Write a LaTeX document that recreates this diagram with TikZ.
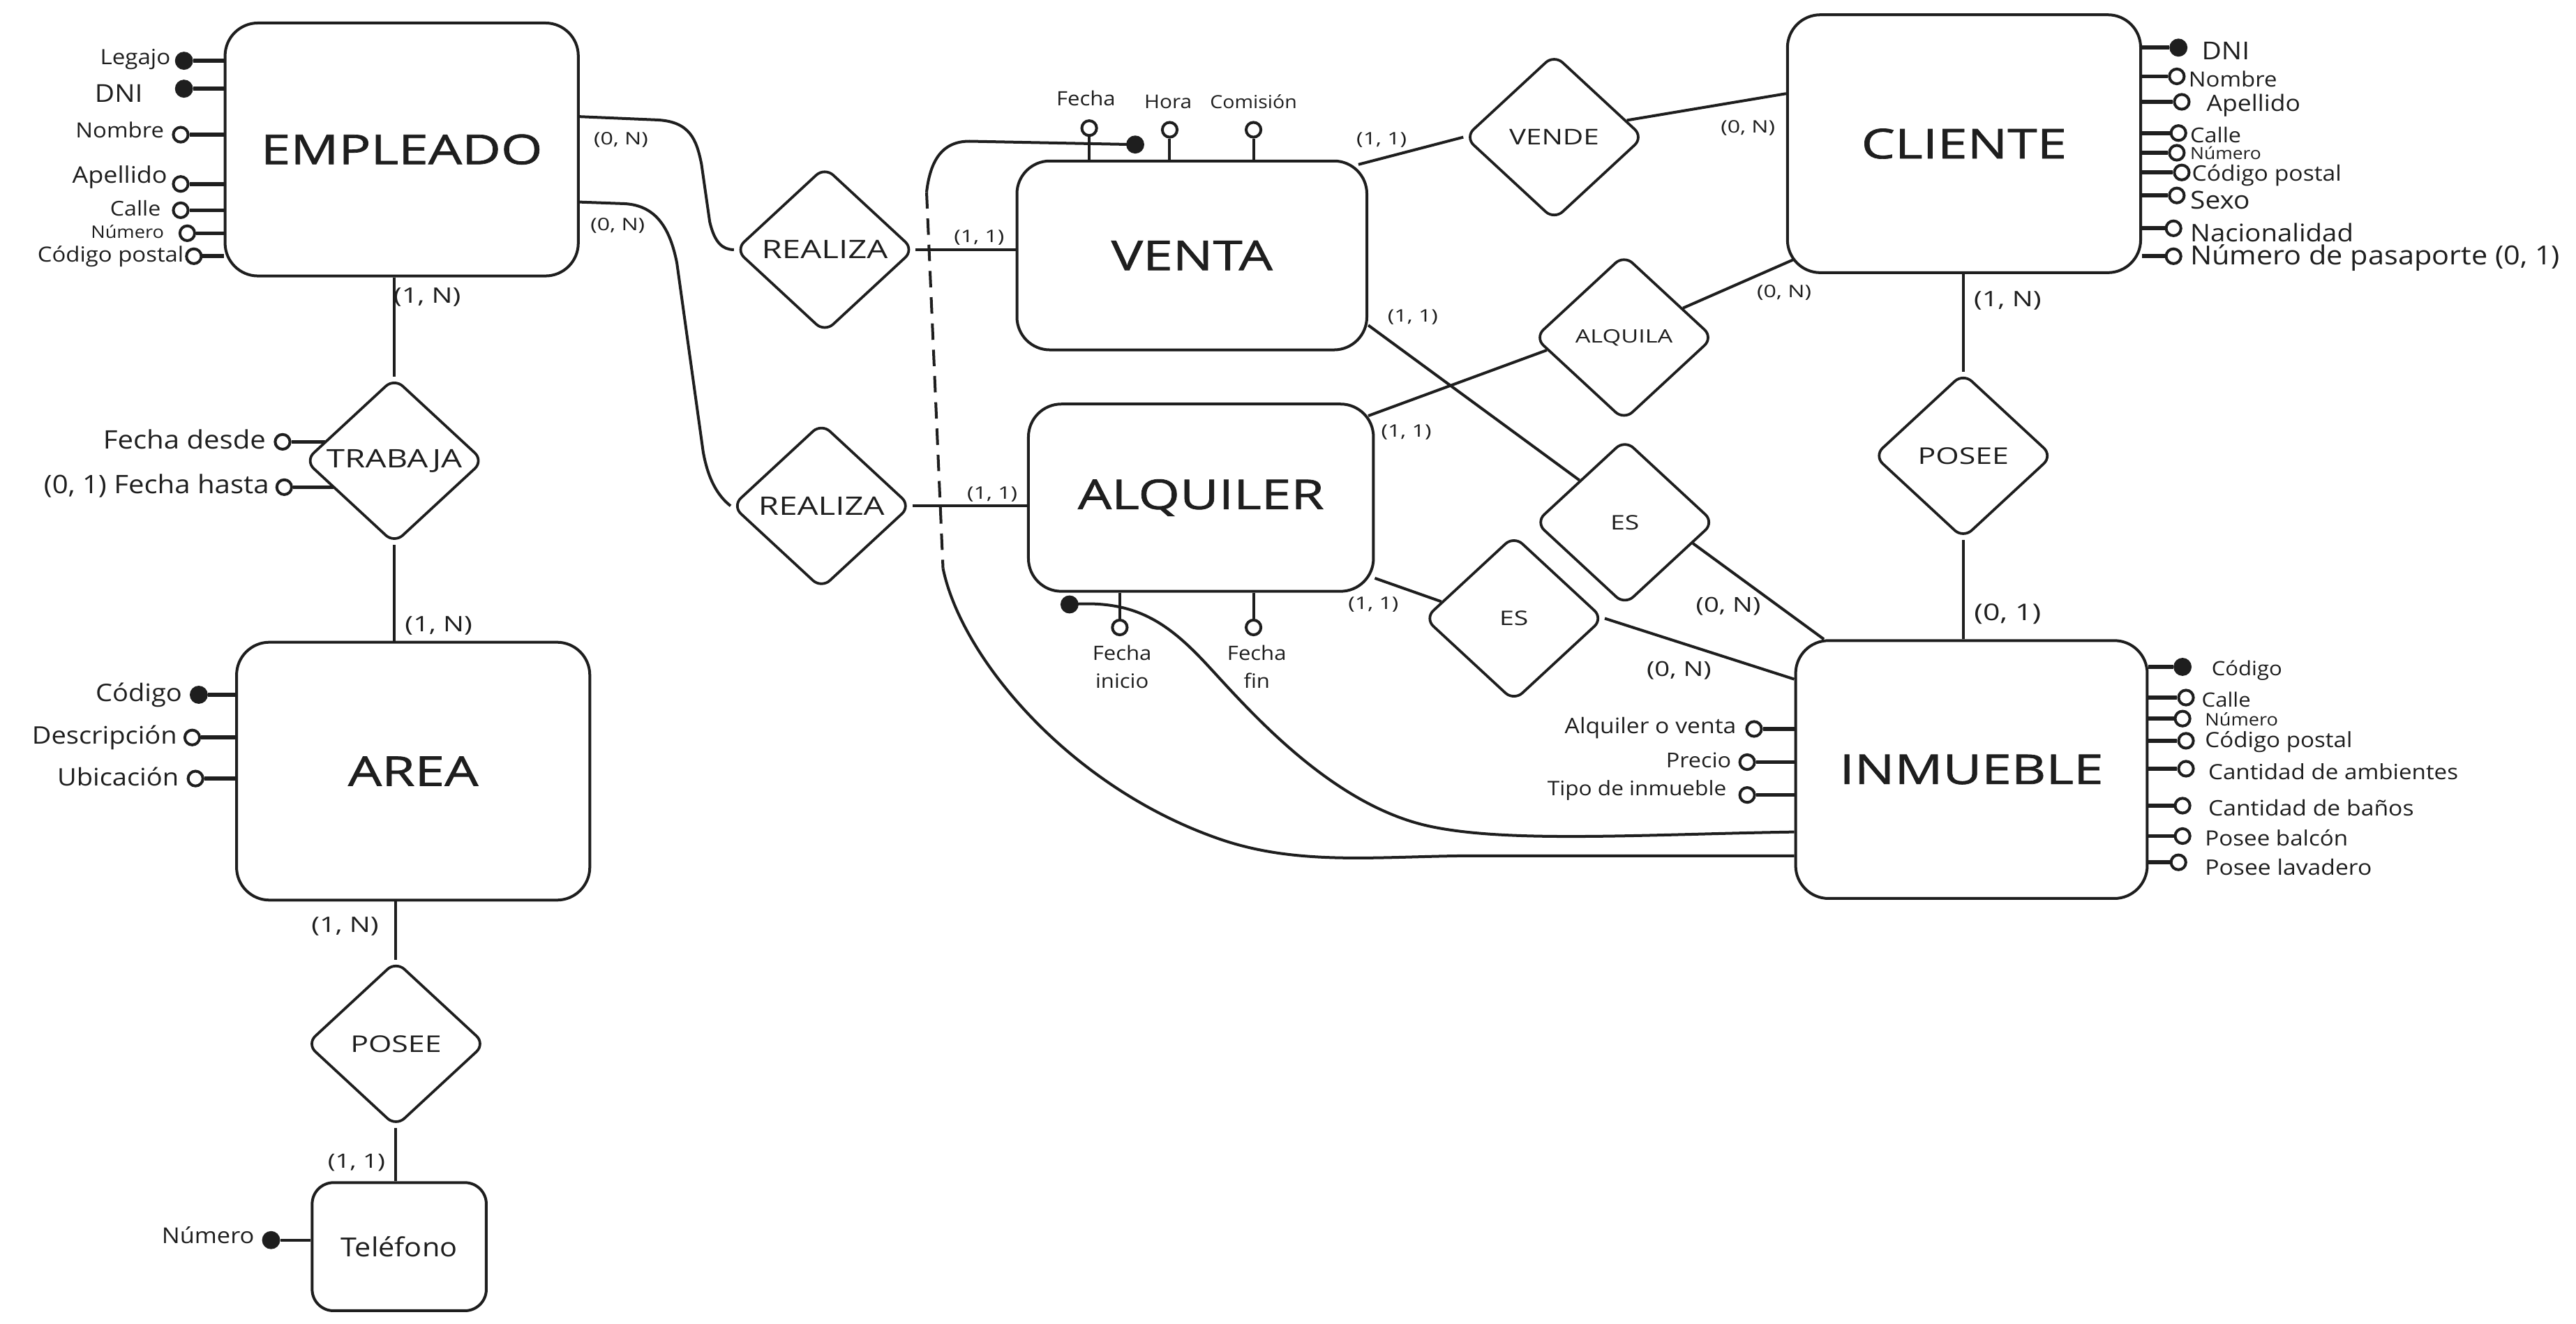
\documentclass[tikz,border=0pt]{standalone}
\usepackage{fontspec}
\setmainfont{Open Sans}
\newfontfamily\fHand[FakeStretch=1.1]{Open Sans}
\newfontfamily\fCaps[FakeStretch=1.3]{Open Sans}
\newfontfamily\fBig[FakeStretch=1.3,FakeBold=1.2]{Open Sans}
\usetikzlibrary{shapes.geometric,calc}
\newcommand\hsz[1]{\fontsize{#1}{#1}\selectfont}
\definecolor{ink}{HTML}{1E1E1E}
\begin{document}
\begin{tikzpicture}[x=1pt,y=-1pt,color=ink,
  entity/.style={draw, line width=1.7pt, rounded corners=20pt, inner sep=0pt, font={\fBig\hsz{25}}},
  rel/.style={draw, diamond, line width=1.6pt, rounded corners=7pt, minimum width=109pt, minimum height=101pt, inner sep=0pt},
  conn/.style={line width=1.7pt},
  stub/.style={line width=2.4pt},
  attr/.style={circle, draw, line width=1.7pt, fill=white, inner sep=0pt, minimum size=9pt},
  keyattr/.style={circle, fill=ink, inner sep=0pt, minimum size=11pt},
  lbl/.style={inner sep=0pt, font={\fHand\hsz{13}}},
  card/.style={inner sep=0pt, font={\fCaps\hsz{10.5}}},
  cardL/.style={inner sep=0pt, font={\fCaps\hsz{13}}},
]
\useasboundingbox (0,0) rectangle (1568,806);
\fill[white] (0,0) rectangle (1568,806);

% ---------------- entities
\node[entity, minimum width=215pt, minimum height=154pt] (emp) at (244.5,91) {EMPLEADO};
\node[entity, minimum width=215pt, minimum height=157pt] (area) at (251.5,469.5) {AREA};
\node[entity, minimum width=106pt, minimum height=78pt, rounded corners=13pt, font={\fHand\hsz{16}}] (tel) at (243,759) {Teléfono};
\node[entity, minimum width=213pt, minimum height=115pt] (venta) at (725.5,155.5) {VENTA};
\node[entity, minimum width=210pt, minimum height=114pt] (alq) at (731,303) {ALQUILER};
\node[entity, minimum width=215pt, minimum height=157pt] (cli) at (1195.5,87.5) {CLIENTE};
\node[entity, minimum width=214pt, minimum height=157pt] (inm) at (1200,468.5) {INMUEBLE};

% ---------------- relationships
\node[rel, font={\fCaps\hsz{15.5}}] (r1) at (502,152) {REALIZA};
\node[rel, font={\fCaps\hsz{15.5}}] (r2) at (500,308) {REALIZA};
\node[rel, font={\fCaps\hsz{15.5}}] (trab) at (240,280.5) {TRABAJA};
\node[rel, font={\fCaps\hsz{14}}] (posL) at (241,635.5) {POSEE};
\node[rel, font={\fCaps\hsz{13.2}}] (vende) at (946,83.5) {VENDE};
\node[rel, font={\fCaps\hsz{11.2}}] (alqa) at (988.5,205.5) {ALQUILA};
\node[rel, font={\fCaps\hsz{12.2}}] (es1) at (989,318) {ES};
\node[rel, font={\fCaps\hsz{12.2}}] (es2) at (921.5,376.5) {ES};
\node[rel, font={\fCaps\hsz{14}}] (posR) at (1195,277.5) {POSEE};

% ---------------- connectors
\draw[conn] ([yshift=20pt]emp.east) -- (400,73) .. controls (420,74) and (424,85) .. (427,100) -- (432,135) .. controls (435,148) and (440,152) .. (r1.west);
\draw[conn] ([yshift=-32pt]emp.east) -- (380,124) .. controls (400,125) and (408,140) .. (412,160) -- (428,275) .. controls (431,292) and (437,302) .. (r2.west);
\draw[conn] (r1.east) -- (r1.east -| venta.west);
\draw[conn] (r2.east) -- (r2.east -| alq.west);

\node[keyattr] (vk) at (691,88) {};
\draw[conn] (vk.center) -- (590,86) .. controls (572,86) and (566,100) .. (564,117) coordinate (d1);
\draw[conn, dash pattern=on 10pt off 6pt] (d1) -- (574,346) coordinate (d2);
\draw[conn] (d2) .. controls (585,400) and (650,478) .. (740,510) .. controls (790,528) and (840,521) .. (900,521) -- ([yshift=-52.5pt]inm.west);

\node[keyattr] (ak) at (651,368) {};
\draw[conn] (ak.center) .. controls (690,365) and (710,378) .. (735,405) .. controls (760,432) and (810,490) .. (870,503) .. controls (918,513.4) and (1000,508) .. ([yshift=-38pt]inm.west);

\draw[conn] ([xshift=-6pt,yshift=-3pt]venta.north east) -- (vende.west);
\draw[conn] ($(vende.east)!0.2!(vende.north)$) -- ([yshift=30.5pt]cli.west);
\draw[conn] ($(alqa.east)!0.35!(alqa.north)$) -- ([xshift=5pt,yshift=9pt]cli.south west);
\draw[conn] ($(alqa.west)!0.15!(alqa.south)$) -- ([xshift=-4pt,yshift=-8pt]alq.north east);
\draw[conn] ([yshift=-42.5pt]venta.east) -- ($(es1.west)!0.5!(es1.north)$);
\draw[conn] ($(es1.east)!0.25!(es1.south)$) -- ([xshift=18pt]inm.north west);
\draw[conn] ([yshift=-49pt]alq.east) -- ($(es2.west)!0.2!(es2.north)$);
\draw[conn] (es2.east) -- ([yshift=55pt]inm.west);
\draw[conn] (posR.north |- cli.south) -- (posR.north);
\draw[conn] (posR.south) -- (posR.south |- inm.north);
\draw[conn] (trab.north |- emp.south) -- (trab.north);
\draw[conn] (trab.south) -- (trab.south |- area.north);
\draw[conn] (posL.north |- area.south) -- (posL.north);
\draw[conn] (posL.south) -- (posL.south |- tel.north);

% ---------------- cardinalities
\node[card] (c1) at (378,85) {(0, N)};
\node[card] (c2) at (376,137.5) {(0, N)};
\node[card] (c3) at (596,144.5) {(1, 1)};
\node[card] (c4) at (604,301) {(1, 1)};
\node[cardL] (c5) at (260,181) {(1, N)};
\node[cardL] (c6) at (267,381) {(1, N)};
\node[cardL] (c7) at (210,564) {(1, N)};
\node[cardL, font={\fCaps\hsz{12}}] (c8) at (217,708) {(1, 1)};
\node[card] (c9) at (841,85) {(1, 1)};
\node[card] (c10) at (1064,78) {(0, N)};
\node[card] (c11) at (1086,178) {(0, N)};
\node[card] (c12) at (856,263) {(1, 1)};
\node[card] (c13) at (860,193) {(1, 1)};
\node[cardL, font={\fCaps\hsz{12.5}}] (c14) at (1052,369) {(0, N)};
\node[card] (c15) at (836,368) {(1, 1)};
\node[cardL, font={\fCaps\hsz{12.5}}] (c16) at (1022,408) {(0, N)};
\node[cardL] (c17) at (1222,183) {(1, N)};
\node[cardL, font={\fCaps\hsz{14}}] (c18) at (1222,374) {(0, 1)};

% ---------------- EMPLEADO attributes
\node[keyattr] (e1) at (112,37) {};   \draw[stub] (e1) -- (e1 -| emp.west);
\node[lbl, anchor=east, font={\fHand\hsz{12.8}}] (te1) at (104,36) {Legajo};
\node[keyattr] (e2) at (112,54) {};   \draw[stub] (e2) -- (e2 -| emp.west);
\node[lbl, anchor=east, font={\fHand\hsz{15}}] (te2) at (87,57) {DNI};
\node[attr] (e3) at (110,82) {};      \draw[stub] (e3) -- (e3 -| emp.west);
\node[lbl, anchor=east, font={\fHand\hsz{12.7}}] (te3) at (100,79) {Nombre};
\node[attr] (e4) at (110,112) {};     \draw[stub] (e4) -- (e4 -| emp.west);
\node[lbl, anchor=east, font={\fHand\hsz{13.9}}] (te4) at (102,108) {Apellido};
\node[attr] (e5) at (110,128) {};     \draw[stub] (e5) -- (e5 -| emp.west);
\node[lbl, anchor=east, font={\fHand\hsz{12.4}}] (te5) at (98,127) {Calle};
\node[attr] (e6) at (114,142) {};     \draw[stub] (e6) -- (e6 -| emp.west);
\node[lbl, anchor=east, font={\fHand\hsz{10.5}}] (te6) at (100,141) {Número};
\node[attr] (e7) at (118,156) {};     \draw[stub] (e7) -- (e7 -| emp.west);
\node[lbl, anchor=east, font={\fHand\hsz{12.7}}] (te7) at (112,156) {Código postal};

% ---------------- TRABAJA attributes
\node[attr] (t1) at (172,269) {};   \draw[stub] (t1) -- (198,269);
\node[lbl, anchor=east, font={\fHand\hsz{15.5}}] (tt1) at (162,267.6) {Fecha desde};
\node[attr] (t2) at (173,296.6) {}; \draw[stub] (t2) -- (203,296.6);
\node[lbl, anchor=east, font={\fHand\hsz{15.5}}] (tt2) at (164,296) {(0, 1) Fecha hasta};

% ---------------- AREA attributes
\node[keyattr] (a1) at (121,423) {};  \draw[stub] (a1) -- (a1 -| area.west);
\node[lbl, anchor=east, font={\fHand\hsz{14.7}}] (ta1) at (111,423) {Código};
\node[attr] (a2) at (117,449) {};     \draw[stub] (a2) -- (a2 -| area.west);
\node[lbl, anchor=east, font={\fHand\hsz{14.7}}] (ta2) at (108,449) {Descripción};
\node[attr] (a3) at (119,474) {};     \draw[stub] (a3) -- (a3 -| area.west);
\node[lbl, anchor=east, font={\fHand\hsz{14.7}}] (ta3) at (109,473) {Ubicación};

% ---------------- Telefono attribute
\node[keyattr] (p1) at (165,755) {};  \draw[conn] (p1) -- (p1 -| tel.west);
\node[lbl, anchor=east, font={\fHand\hsz{13.3}}] (tp1) at (155,752) {Número};

% ---------------- VENTA attributes
\node[attr] (v1) at (663,78) {};  \draw[conn] (v1) -- (v1 |- venta.north);
\node[lbl, font={\fHand\hsz{12}}] (tv1) at (661,60) {Fecha};
\node[attr] (v2) at (712,79) {};  \draw[conn] (v2) -- (v2 |- venta.north);
\node[lbl, font={\fHand\hsz{11.5}}] (tv2) at (711,62) {Hora};
\node[attr] (v3) at (763,79) {};  \draw[conn] (v3) -- (v3 |- venta.north);
\node[lbl, font={\fHand\hsz{11}}] (tv3) at (763,62) {Comisión};

% ---------------- ALQUILER attributes
\node[attr] (q1) at (681.6,382) {};  \draw[conn] (q1) -- (q1 |- alq.south);
\node[lbl, align=center, font={\fHand\fontsize{12}{17}\selectfont}] (tq1) at (683,406) {Fecha\\inicio};
\node[attr] (q2) at (763,382) {};    \draw[conn] (q2) -- (q2 |- alq.south);
\node[lbl, align=center, font={\fHand\fontsize{12}{17}\selectfont}] (tq2) at (765,406) {Fecha\\fin};

% ---------------- CLIENTE attributes
\node[keyattr] (k1) at (1326,29) {};  \draw[stub] (k1) -- (k1 -| cli.east);
\node[lbl, anchor=west, font={\fHand\hsz{15}}] (tk1) at (1340,31) {DNI};
\node[attr] (k2) at (1325,46.5) {};   \draw[stub] (k2) -- (k2 -| cli.east);
\node[lbl, anchor=west, font={\fHand\hsz{12.7}}] (tk2) at (1332,48) {Nombre};
\node[attr] (k3) at (1328,62) {};     \draw[stub] (k3) -- (k3 -| cli.east);
\node[lbl, anchor=west, font={\fHand\hsz{13.7}}] (tk3) at (1343,64) {Apellido};
\node[attr] (k4) at (1326,81) {};     \draw[stub] (k4) -- (k4 -| cli.east);
\node[lbl, anchor=west, font={\fHand\hsz{12.5}}] (tk4) at (1333,82) {Calle};
\node[attr] (k5) at (1325,93) {};     \draw[stub] (k5) -- (k5 -| cli.east);
\node[lbl, anchor=west, font={\fHand\hsz{10.2}}] (tk5) at (1333,93) {Número};
\node[attr] (k6) at (1328,105) {};    \draw[stub] (k6) -- (k6 -| cli.east);
\node[lbl, anchor=west, font={\fHand\hsz{13}}] (tk6) at (1334,107) {Código postal};
\node[attr] (k7) at (1325,119) {};    \draw[stub] (k7) -- (k7 -| cli.east);
\node[lbl, anchor=west, font={\fHand\hsz{15}}] (tk7) at (1333,122) {Sexo};
\node[attr] (k8) at (1323,139) {};    \draw[stub] (k8) -- (k8 -| cli.east);
\node[lbl, anchor=west, font={\fHand\hsz{14.8}}] (tk8) at (1333,141.5) {Nacionalidad};
\node[attr] (k9) at (1323,156) {};    \draw[stub] (k9) -- (k9 -| cli.east);
\node[lbl, anchor=west, font={\fHand\hsz{16}}] (tk9) at (1333,157) {Número de pasaporte (0, 1)};

% ---------------- INMUEBLE attributes (right)
\node[keyattr] (i1) at (1328.5,406) {};  \draw[stub] (i1) -- (i1 -| inm.east);
\node[lbl, anchor=west, font={\fHand\hsz{12}}] (ti1) at (1346,408) {Código};
\node[attr] (i2) at (1330.6,424.7) {};   \draw[stub] (i2) -- (i2 -| inm.east);
\node[lbl, anchor=west, font={\fHand\hsz{12}}] (ti2) at (1340,426) {Calle};
\node[attr] (i3) at (1328.5,437.5) {};   \draw[stub] (i3) -- (i3 -| inm.east);
\node[lbl, anchor=west, font={\fHand\hsz{10.5}}] (ti3) at (1342,438) {Número};
\node[attr] (i4) at (1330.6,451) {};     \draw[stub] (i4) -- (i4 -| inm.east);
\node[lbl, anchor=west, font={\fHand\hsz{12.8}}] (ti4) at (1342,451.5) {Código postal};
\node[attr] (i5) at (1330.6,468) {};     \draw[stub] (i5) -- (i5 -| inm.east);
\node[lbl, anchor=west, font={\fHand\hsz{12.8}}] (ti5) at (1344,470) {Cantidad de ambientes};
\node[attr] (i6) at (1328.5,490.5) {};   \draw[stub] (i6) -- (i6 -| inm.east);
\node[lbl, anchor=west, font={\fHand\hsz{13}}] (ti6) at (1344,492) {Cantidad de baños};
\node[attr] (i7) at (1328.5,509) {};     \draw[stub] (i7) -- (i7 -| inm.east);
\node[lbl, anchor=west, font={\fHand\hsz{12.8}}] (ti7) at (1342,510) {Posee balcón};
\node[attr] (i8) at (1326,525) {};       \draw[stub] (i8) -- (i8 -| inm.east);
\node[lbl, anchor=west, font={\fHand\hsz{13}}] (ti8) at (1342,528) {Posee lavadero};

% ---------------- INMUEBLE attributes (left)
\node[attr] (j1) at (1067.7,443.8) {};  \draw[stub] (j1) -- (j1 -| inm.west);
\node[lbl, anchor=east, font={\fHand\hsz{13}}] (tj1) at (1057,443) {Alquiler o venta};
\node[attr] (j2) at (1063.5,464) {};    \draw[stub] (j2) -- (j2 -| inm.west);
\node[lbl, anchor=east, font={\fHand\hsz{12.5}}] (tj2) at (1054,463) {Precio};
\node[attr] (j3) at (1063.5,484) {};    \draw[stub] (j3) -- (j3 -| inm.west);
\node[lbl, anchor=east, font={\fHand\hsz{12.2}}] (tj3) at (1051,481) {Tipo de inmueble};
\end{tikzpicture}
\end{document}
